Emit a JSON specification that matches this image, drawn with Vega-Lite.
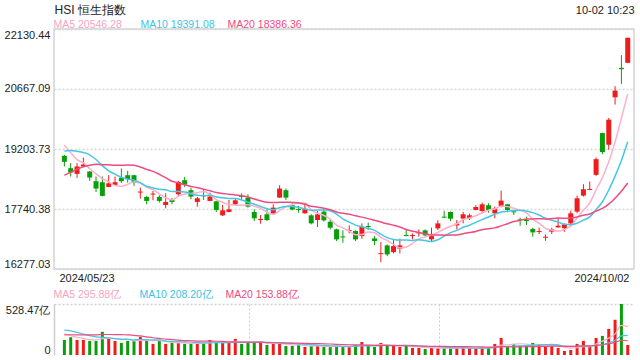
{
"$schema":"https://vega.github.io/schema/vega-lite/v6.json",
"padding":{"left":3,"top":2,"right":5,"bottom":5},
"bounds":"flush",
"spacing":35,
"datasets":{"k":[
{"i":0,"o":19038,"h":19060,"l":18777,"c":18891,"v":156,"ma5":19299.6,"ma10":19156.5,"ma20":18563.3,"vma5":219.0,"vma10":257.0,"vma20":208.0},
{"i":1,"o":18736,"h":18859,"l":18532,"c":18630,"v":184,"ma5":19114.9,"ma10":19165.7,"ma20":18634.8,"vma5":199.8,"vma10":249.4,"vma20":209.7},
{"i":2,"o":18597,"h":18859,"l":18500,"c":18777,"v":156,"ma5":18943.0,"ma10":19147.0,"ma20":18709.4,"vma5":183.0,"vma10":234.0,"vma20":209.5},
{"i":3,"o":18777,"h":18997,"l":18760,"c":18826,"v":156,"ma5":18863.9,"ma10":19118.1,"ma20":18768.1,"vma5":172.2,"vma10":216.6,"vma20":208.8},
{"i":4,"o":18655,"h":18665,"l":18426,"c":18508,"v":146,"ma5":18726.4,"ma10":19061.6,"ma20":18806.2,"vma5":159.6,"vma10":201.2,"vma20":209.1},
{"i":5,"o":18418,"h":18532,"l":18157,"c":18239,"v":146,"ma5":18596.0,"ma10":18947.8,"ma20":18830.0,"vma5":157.6,"vma10":188.3,"vma20":208.9},
{"i":6,"o":18394,"h":18532,"l":18050,"c":18059,"v":240,"ma5":18481.8,"ma10":18798.3,"ma20":18822.6,"vma5":168.8,"vma10":184.3,"vma20":212.7},
{"i":7,"o":18279,"h":18565,"l":18270,"c":18369,"v":167,"ma5":18400.2,"ma10":18671.6,"ma20":18817.2,"vma5":171.0,"vma10":177.0,"vma20":212.3},
{"i":8,"o":18328,"h":18532,"l":18320,"c":18394,"v":146,"ma5":18313.8,"ma10":18588.9,"ma20":18808.0,"vma5":169.0,"vma10":170.6,"vma20":211.6},
{"i":9,"o":18500,"h":18728,"l":18377,"c":18418,"v":125,"ma5":18295.8,"ma10":18511.1,"ma20":18804.9,"vma5":164.8,"vma10":162.2,"vma20":210.1},
{"i":10,"o":18565,"h":18671,"l":18385,"c":18467,"v":146,"ma5":18341.4,"ma10":18468.7,"ma20":18812.6,"vma5":164.8,"vma10":161.2,"vma20":209.1},
{"i":11,"o":18565,"h":18575,"l":18304,"c":18385,"v":146,"ma5":18406.6,"ma10":18444.2,"ma20":18805.0,"vma5":146.0,"vma10":157.4,"vma20":203.4},
{"i":12,"o":18141,"h":18263,"l":17994,"c":18165,"v":188,"ma5":18365.8,"ma10":18383.0,"ma20":18765.0,"vma5":150.2,"vma10":160.6,"vma20":197.3},
{"i":13,"o":18035,"h":18059,"l":17855,"c":17937,"v":146,"ma5":18274.4,"ma10":18294.1,"ma20":18706.1,"vma5":150.2,"vma10":159.6,"vma20":188.1},
{"i":14,"o":18092,"h":18181,"l":17953,"c":18116,"v":115,"ma5":18214.0,"ma10":18254.9,"ma20":18658.2,"vma5":148.2,"vma10":156.5,"vma20":178.9},
{"i":15,"o":18035,"h":18076,"l":17896,"c":17937,"v":146,"ma5":18108.0,"ma10":18224.7,"ma20":18586.3,"vma5":148.2,"vma10":156.5,"vma20":172.4},
{"i":16,"o":17839,"h":18124,"l":17757,"c":17912,"v":115,"ma5":18013.4,"ma10":18210.0,"ma20":18504.2,"vma5":142.0,"vma10":144.0,"vma20":164.2},
{"i":17,"o":17961,"h":18010,"l":17855,"c":17912,"v":125,"ma5":17962.8,"ma10":18164.3,"ma20":18418.0,"vma5":129.4,"vma10":139.8,"vma20":158.4},
{"i":18,"o":18100,"h":18426,"l":18043,"c":18402,"v":125,"ma5":18055.8,"ma10":18165.1,"ma20":18377.0,"vma5":125.2,"vma10":137.7,"vma20":154.2},
{"i":19,"o":18443,"h":18524,"l":18279,"c":18336,"v":115,"ma5":18099.8,"ma10":18156.9,"ma20":18334.0,"vma5":125.2,"vma10":136.7,"vma20":149.5},
{"i":20,"o":18198,"h":18255,"l":17978,"c":18043,"v":125,"ma5":18121.0,"ma10":18114.5,"ma20":18291.6,"vma5":121.0,"vma10":134.6,"vma20":147.9},
{"i":21,"o":17912,"h":18035,"l":17798,"c":18002,"v":115,"ma5":18139.0,"ma10":18076.2,"ma20":18260.2,"vma5":121.0,"vma10":131.5,"vma20":144.5},
{"i":22,"o":18075,"h":18222,"l":17961,"c":18051,"v":125,"ma5":18166.8,"ma10":18064.8,"ma20":18223.9,"vma5":121.0,"vma10":125.2,"vma20":142.9},
{"i":23,"o":17937,"h":18141,"l":17930,"c":18043,"v":156,"ma5":18095.0,"ma10":18075.4,"ma20":18184.8,"vma5":127.2,"vma10":126.2,"vma20":142.9},
{"i":24,"o":17929,"h":17940,"l":17668,"c":17717,"v":135,"ma5":17971.2,"ma10":18035.5,"ma20":18145.2,"vma5":131.2,"vma10":128.2,"vma20":142.4},
{"i":25,"o":17586,"h":17839,"l":17570,"c":17708,"v":125,"ma5":17904.2,"ma10":18012.6,"ma20":18118.7,"vma5":131.2,"vma10":126.1,"vma20":141.3},
{"i":26,"o":17668,"h":17961,"l":17660,"c":17733,"v":125,"ma5":17850.4,"ma10":17994.7,"ma20":18102.4,"vma5":133.2,"vma10":127.1,"vma20":135.6},
{"i":27,"o":17855,"h":17994,"l":17814,"c":17953,"v":167,"ma5":17830.8,"ma10":17998.8,"ma20":18081.6,"vma5":141.6,"vma10":131.3,"vma20":135.6},
{"i":28,"o":18059,"h":18124,"l":17961,"c":18035,"v":115,"ma5":17829.2,"ma10":17962.1,"ma20":18063.6,"vma5":133.4,"vma10":130.3,"vma20":134.0},
{"i":29,"o":18018,"h":18100,"l":17774,"c":17798,"v":125,"ma5":17845.4,"ma10":17908.3,"ma20":18032.6,"vma5":131.4,"vma10":131.3,"vma20":134.0},
{"i":30,"o":17668,"h":17733,"l":17447,"c":17513,"v":135,"ma5":17806.4,"ma10":17855.3,"ma20":17984.9,"vma5":133.4,"vma10":132.3,"vma20":133.5},
{"i":31,"o":17472,"h":17594,"l":17382,"c":17496,"v":135,"ma5":17759.0,"ma10":17804.7,"ma20":17940.5,"vma5":135.4,"vma10":134.3,"vma20":132.9},
{"i":32,"o":17611,"h":17733,"l":17447,"c":17472,"v":104,"ma5":17662.8,"ma10":17746.8,"ma20":17905.8,"vma5":122.8,"vma10":132.2,"vma20":128.7},
{"i":33,"o":17627,"h":17855,"l":17611,"c":17774,"v":115,"ma5":17610.6,"ma10":17719.9,"ma20":17897.7,"vma5":122.8,"vma10":128.1,"vma20":127.2},
{"i":34,"o":18018,"h":18320,"l":18010,"c":18239,"v":115,"ma5":17698.8,"ma10":17772.1,"ma20":17903.8,"vma5":120.8,"vma10":126.1,"vma20":127.2},
{"i":35,"o":18198,"h":18239,"l":17961,"c":18018,"v":94,"ma5":17799.8,"ma10":17803.1,"ma20":17907.9,"vma5":112.6,"vma10":123.0,"vma20":124.6},
{"i":36,"o":17831,"h":17880,"l":17710,"c":17725,"v":94,"ma5":17845.6,"ma10":17802.3,"ma20":17898.5,"vma5":104.4,"vma10":119.9,"vma20":123.5},
{"i":37,"o":17741,"h":17814,"l":17651,"c":17717,"v":104,"ma5":17894.6,"ma10":17778.7,"ma20":17888.8,"vma5":104.4,"vma10":113.6,"vma20":122.5},
{"i":38,"o":17635,"h":17880,"l":17627,"c":17733,"v":83,"ma5":17886.4,"ma10":17748.5,"ma20":17855.3,"vma5":98.0,"vma10":110.4,"vma20":120.4},
{"i":39,"o":17586,"h":17611,"l":17366,"c":17390,"v":94,"ma5":17716.6,"ma10":17707.7,"ma20":17808.0,"vma5":93.8,"vma10":107.3,"vma20":119.3},
{"i":40,"o":17472,"h":17692,"l":17301,"c":17611,"v":94,"ma5":17635.2,"ma10":17717.5,"ma20":17786.4,"vma5":93.8,"vma10":103.2,"vma20":117.8},
{"i":41,"o":17676,"h":17733,"l":17431,"c":17464,"v":83,"ma5":17583.0,"ma10":17714.3,"ma20":17759.5,"vma5":91.6,"vma10":98.0,"vma20":116.2},
{"i":42,"o":17431,"h":17488,"l":17244,"c":17284,"v":83,"ma5":17496.4,"ma10":17695.5,"ma20":17721.2,"vma5":87.4,"vma10":95.9,"vma20":114.1},
{"i":43,"o":17244,"h":17260,"l":16958,"c":16999,"v":94,"ma5":17349.6,"ma10":17618.0,"ma20":17669.0,"vma5":89.6,"vma10":93.8,"vma20":111.0},
{"i":44,"o":17072,"h":17219,"l":16917,"c":17048,"v":83,"ma5":17281.2,"ma10":17498.9,"ma20":17635.5,"vma5":87.4,"vma10":90.6,"vma20":108.4},
{"i":45,"o":17203,"h":17341,"l":17146,"c":17227,"v":83,"ma5":17204.4,"ma10":17419.8,"ma20":17611.5,"vma5":85.2,"vma10":89.5,"vma20":106.3},
{"i":46,"o":17203,"h":17219,"l":16958,"c":16999,"v":104,"ma5":17111.4,"ma10":17347.2,"ma20":17574.8,"vma5":89.4,"vma10":90.5,"vma20":105.2},
{"i":47,"o":17080,"h":17390,"l":17015,"c":17309,"v":135,"ma5":17116.4,"ma10":17306.4,"ma20":17542.6,"vma5":99.8,"vma10":93.6,"vma20":103.6},
{"i":48,"o":17325,"h":17407,"l":17227,"c":17301,"v":94,"ma5":17176.8,"ma10":17263.2,"ma20":17505.9,"vma5":99.8,"vma10":94.7,"vma20":102.6},
{"i":49,"o":17023,"h":17080,"l":16860,"c":16958,"v":83,"ma5":17158.8,"ma10":17220.0,"ma20":17463.9,"vma5":99.8,"vma10":93.6,"vma20":100.5},
{"i":50,"o":16640,"h":16934,"l":16444,"c":16664,"v":125,"ma5":17046.2,"ma10":17125.3,"ma20":17421.4,"vma5":108.2,"vma10":96.7,"vma20":100.0},
{"i":51,"o":16852,"h":16876,"l":16591,"c":16632,"v":104,"ma5":16972.8,"ma10":17042.1,"ma20":17378.2,"vma5":108.2,"vma10":98.8,"vma20":98.4},
{"i":52,"o":16689,"h":16982,"l":16656,"c":16836,"v":94,"ma5":16878.2,"ma10":16997.3,"ma20":17346.4,"vma5":100.0,"vma10":99.9,"vma20":97.9},
{"i":53,"o":16770,"h":17015,"l":16656,"c":16852,"v":83,"ma5":16788.4,"ma10":16982.6,"ma20":17300.3,"vma5":97.8,"vma10":98.8,"vma20":96.3},
{"i":54,"o":17105,"h":17227,"l":17075,"c":17080,"v":94,"ma5":16812.8,"ma10":16985.8,"ma20":17242.4,"vma5":100.0,"vma10":99.9,"vma20":95.3},
{"i":55,"o":17080,"h":17146,"l":16999,"c":17105,"v":73,"ma5":16901.0,"ma10":16973.6,"ma20":17196.7,"vma5":89.6,"vma10":98.9,"vma20":94.2},
{"i":56,"o":17146,"h":17244,"l":17064,"c":17170,"v":73,"ma5":17008.6,"ma10":16990.7,"ma20":17169.0,"vma5":83.4,"vma10":95.8,"vma20":93.2},
{"i":57,"o":17219,"h":17244,"l":17064,"c":17097,"v":62,"ma5":17060.8,"ma10":16969.5,"ma20":17138.0,"vma5":77.0,"vma10":88.5,"vma20":91.1},
{"i":58,"o":16999,"h":17284,"l":16934,"c":17080,"v":73,"ma5":17106.4,"ma10":16947.4,"ma20":17105.3,"vma5":75.0,"vma10":86.4,"vma20":90.6},
{"i":59,"o":17268,"h":17464,"l":17227,"c":17390,"v":73,"ma5":17168.4,"ma10":16990.6,"ma20":17105.3,"vma5":70.8,"vma10":85.4,"vma20":89.5},
{"i":60,"o":17553,"h":17692,"l":17525,"c":17529,"v":73,"ma5":17253.2,"ma10":17077.1,"ma20":17101.2,"vma5":70.8,"vma10":80.2,"vma20":88.5},
{"i":61,"o":17668,"h":17680,"l":17447,"c":17505,"v":68,"ma5":17320.2,"ma10":17164.4,"ma20":17103.3,"vma5":69.8,"vma10":76.6,"vma20":87.7},
{"i":62,"o":17341,"h":17472,"l":17244,"c":17382,"v":73,"ma5":17377.2,"ma10":17219.0,"ma20":17108.2,"vma5":72.0,"vma10":74.5,"vma20":87.2},
{"i":63,"o":17505,"h":17668,"l":17390,"c":17611,"v":78,"ma5":17483.4,"ma10":17294.9,"ma20":17138.8,"vma5":73.0,"vma10":74.0,"vma20":86.4},
{"i":64,"o":17513,"h":17627,"l":17472,"c":17586,"v":73,"ma5":17522.6,"ma10":17345.5,"ma20":17165.7,"vma5":73.0,"vma10":71.9,"vma20":85.9},
{"i":65,"o":17717,"h":17831,"l":17710,"c":17790,"v":70,"ma5":17574.8,"ma10":17414.0,"ma20":17193.8,"vma5":72.4,"vma10":71.6,"vma20":85.3},
{"i":66,"o":17692,"h":17896,"l":17635,"c":17855,"v":73,"ma5":17644.8,"ma10":17482.5,"ma20":17236.6,"vma5":73.4,"vma10":71.6,"vma20":83.7},
{"i":67,"o":17831,"h":17880,"l":17651,"c":17717,"v":73,"ma5":17711.8,"ma10":17544.5,"ma20":17257.0,"vma5":73.4,"vma10":72.7,"vma20":80.6},
{"i":68,"o":17635,"h":17798,"l":17513,"c":17757,"v":115,"ma5":17741.0,"ma10":17612.2,"ma20":17279.8,"vma5":80.8,"vma10":76.9,"vma20":81.7},
{"i":69,"o":17798,"h":18190,"l":17782,"c":17945,"v":177,"ma5":17812.8,"ma10":17667.7,"ma20":17329.2,"vma5":101.6,"vma10":87.3,"vma20":86.4},
{"i":70,"o":17855,"h":17865,"l":17659,"c":17717,"v":83,"ma5":17798.2,"ma10":17686.5,"ma20":17381.8,"vma5":104.2,"vma10":88.3,"vma20":84.3},
{"i":71,"o":17684,"h":17717,"l":17594,"c":17659,"v":115,"ma5":17759.0,"ma10":17701.9,"ma20":17433.2,"vma5":112.6,"vma10":93.0,"vma20":84.8},
{"i":72,"o":17488,"h":17529,"l":17333,"c":17464,"v":94,"ma5":17708.4,"ma10":17710.1,"ma20":17464.6,"vma5":116.8,"vma10":95.1,"vma20":84.8},
{"i":73,"o":17472,"h":17553,"l":17349,"c":17447,"v":94,"ma5":17646.4,"ma10":17693.7,"ma20":17494.3,"vma5":112.6,"vma10":96.7,"vma20":85.4},
{"i":74,"o":17252,"h":17284,"l":17064,"c":17170,"v":125,"ma5":17491.4,"ma10":17652.1,"ma20":17498.8,"vma5":102.2,"vma10":101.9,"vma20":86.9},
{"i":75,"o":17178,"h":17284,"l":17129,"c":17203,"v":104,"ma5":17388.6,"ma10":17593.4,"ma20":17503.7,"vma5":106.4,"vma10":105.3,"vma20":88.5},
{"i":76,"o":17039,"h":17121,"l":16966,"c":17064,"v":94,"ma5":17269.6,"ma10":17514.3,"ma20":17498.4,"vma5":102.2,"vma10":107.4,"vma20":89.5},
{"i":77,"o":17186,"h":17284,"l":17129,"c":17243,"v":94,"ma5":17225.4,"ma10":17466.9,"ma20":17505.7,"vma5":102.2,"vma10":109.5,"vma20":91.1},
{"i":78,"o":17292,"h":17513,"l":17285,"c":17333,"v":73,"ma5":17202.6,"ma10":17424.5,"ma20":17518.4,"vma5":98.0,"vma10":105.3,"vma20":91.1},
{"i":79,"o":17268,"h":17390,"l":17186,"c":17366,"v":42,"ma5":17241.8,"ma10":17366.6,"ma20":17517.2,"vma5":81.4,"vma10":91.8,"vma20":89.6},
{"i":80,"o":17390,"h":17700,"l":17366,"c":17635,"v":52,"ma5":17328.2,"ma10":17358.4,"ma20":17522.5,"vma5":71.0,"vma10":88.7,"vma20":88.5},
{"i":81,"o":17676,"h":18067,"l":17635,"c":18002,"v":115,"ma5":17515.8,"ma10":17392.7,"ma20":17547.3,"vma5":75.2,"vma10":88.7,"vma20":90.9},
{"i":82,"o":18067,"h":18345,"l":18043,"c":18222,"v":146,"ma5":17711.6,"ma10":17468.5,"ma20":17589.3,"vma5":85.6,"vma10":93.9,"vma20":94.5},
{"i":83,"o":18206,"h":18410,"l":18200,"c":18230,"v":83,"ma5":17891.0,"ma10":17546.8,"ma20":17620.3,"vma5":87.6,"vma10":92.8,"vma20":94.8},
{"i":84,"o":18573,"h":18997,"l":18548,"c":18956,"v":177,"ma5":18209.0,"ma10":17725.4,"ma20":17688.8,"vma5":114.6,"vma10":98.0,"vma20":100.0},
{"i":85,"o":19593,"h":19600,"l":19079,"c":19128,"v":198,"ma5":18507.6,"ma10":17917.9,"ma20":17755.7,"vma5":143.8,"vma10":107.4,"vma20":106.4},
{"i":86,"o":19307,"h":19960,"l":19185,"c":19919,"v":271,"ma5":18891.0,"ma10":18203.4,"ma20":17858.9,"vma5":175.0,"vma10":125.1,"vma20":116.3},
{"i":87,"o":20465,"h":20735,"l":20286,"c":20628,"v":365,"ma5":19372.2,"ma10":18541.9,"ma20":18004.4,"vma5":218.8,"vma10":152.2,"vma20":130.9},
{"i":88,"o":21183,"h":21493,"l":20792,"c":21151,"v":528.47,"ma5":19956.4,"ma10":18923.7,"ma20":18174.1,"vma5":307.9,"vma10":197.7,"vma20":151.5},
{"i":89,"o":21306,"h":21917,"l":21300,"c":21917,"v":104,"ma5":20548.6,"ma10":19378.8,"ma20":18372.7,"vma5":293.3,"vma10":203.9,"vma20":147.9}
]},
"vconcat":[
{
"width":580,"height":240,
"view":{"stroke":"#d3d3d3","strokeWidth":1.5},
"data":{"name":"k"},
"layer":[
{"mark":{"type":"rule","strokeWidth":1},
 "encoding":{
  "x":{"field":"i","type":"quantitative","scale":{"domain":[-0.85,89.2],"nice":false,"zero":false},
   "axis":{"values":[-0.85,89.2],"labelExpr":"datum.value < 40 ? '2024/05/23' : '2024/10/02'","labelAlign":{"condition":{"test":"datum.value < 40","value":"left"},"value":"right"},"ticks":false,"domain":false,"grid":false,"title":null,"labelPadding":3,"labelColor":"#222","labelFontSize":11}},
  "y":{"field":"l","type":"quantitative","scale":{"domain":[16277.03,22130.44],"nice":false,"zero":false},
   "axis":{"values":[16277.03,17740.38,19203.73,20667.09,22130.44],"format":".2f","labelFlush":true,"ticks":false,"domain":false,"grid":true,"gridDash":[2,2],"gridColor":"#d8d8d8","gridWidth":1.5,"title":null,"labelPadding":4,"labelColor":"#222","labelFontSize":11}},
  "y2":{"field":"h"},
  "color":{"condition":{"test":"datum.c >= datum.o","value":"#f01c1c"},"value":"#0a9e0a"}}},
{"mark":{"type":"bar","width":5},
 "encoding":{
  "x":{"field":"i","type":"quantitative","scale":{"domain":[-0.85,89.2],"nice":false,"zero":false},
   "axis":{"orient":"top","labels":false,"ticks":false,"domain":false,"grid":false,"title":"HSI 恒生指数","titleX":0,"titleAlign":"left","titleY":-15.5,"titleBaseline":"alphabetic","titleFontSize":12,"titleFontWeight":"normal","titleColor":"#222"}},
  "y":{"field":"o","type":"quantitative","scale":{"domain":[16277.03,22130.44],"nice":false,"zero":false},
   "axis":{"values":[16277.03,17740.38,19203.73,20667.09,22130.44],"format":".2f","labelFlush":true,"ticks":false,"domain":false,"grid":true,"gridDash":[2,2],"gridColor":"#d8d8d8","gridWidth":1.5,"title":null,"labelPadding":4,"labelColor":"#222","labelFontSize":11}},
  "y2":{"field":"c"},
  "color":{"condition":{"test":"datum.c >= datum.o","value":"#f01c1c"},"value":"#0a9e0a"}}},
{"transform":[{"fold":["ma5","ma10","ma20"],"as":["ma","val"]}],
 "mark":{"type":"line","strokeWidth":1.5,"interpolate":"monotone"},
 "encoding":{
  "x":{"field":"i","type":"quantitative","scale":{"domain":[-0.85,89.2],"nice":false,"zero":false},
   "axis":{"orient":"top","labels":false,"ticks":false,"domain":false,"grid":false,"title":"10-02 10:23","titleX":580,"titleAlign":"right","titleY":-15.5,"titleBaseline":"alphabetic","titleFontSize":11,"titleFontWeight":"normal","titleColor":"#222"}},
  "y":{"field":"val","type":"quantitative","scale":{"domain":[16277.03,22130.44],"nice":false,"zero":false},
   "axis":{"values":[16277.03,17740.38,19203.73,20667.09,22130.44],"format":".2f","labelFlush":true,"ticks":false,"domain":false,"grid":true,"gridDash":[2,2],"gridColor":"#d8d8d8","gridWidth":1.5,"title":null,"labelPadding":4,"labelColor":"#222","labelFontSize":11}},
  "color":{"field":"ma","type":"nominal","scale":{"domain":["ma5","ma10","ma20"],"range":["#fbb0cc","#45c6e4","#ee4b80"]},
   "legend":{"orient":"none","legendX":-11,"legendY":-9.5,"direction":"horizontal","columns":3,"title":null,"symbolSize":0.01,"symbolOpacity":0,"symbolStrokeWidth":0,"labelOffset":0,"labelFontSize":10.5,"columnPadding":2,"gridAlign":"all","padding":0,"labelLimit":200,
    "labelExpr":"datum.label == 'ma5' ? 'MA5 20546.28' : datum.label == 'ma10' ? 'MA10 19391.08' : 'MA20 18386.36'",
    "encode":{"labels":{"update":{"fill":{"signal":"datum.value == 'ma5' ? '#f7a3c1' : datum.value == 'ma10' ? '#3cc3e2' : '#ee4b80'"}}}}}}}}
],
"resolve":{"axis":{"x":"independent"}}
},
{
"width":580,"height":51,
"data":{"name":"k"},
"layer":[
{"mark":{"type":"bar","width":3},
 "encoding":{
  "x":{"field":"i","type":"quantitative","scale":{"domain":[-0.85,89.2],"nice":false,"zero":false},
   "axis":{"values":[29.17,59.2],"grid":true,"gridDash":[2,2],"gridColor":"#cfcfcf","gridWidth":1,"labels":false,"ticks":false,"domain":false,"title":null}},
  "y":{"field":"v","type":"quantitative","scale":{"domain":[0,528.47],"nice":false,"zero":true},
   "axis":{"values":[0,528.47],"labelExpr":"datum.value > 0 ? '528.47亿' : '0'","labelFlush":true,"ticks":false,"domain":true,"domainColor":"#cfcfcf","domainWidth":1.5,"grid":true,"gridDash":[2,2],"gridColor":"#d0d0d0","gridWidth":1.5,"gridOpacity":{"condition":{"test":"datum.value > 0","value":1},"value":0},"title":null,"labelPadding":4,"labelColor":"#222","labelFontSize":11}},
  "color":{"condition":{"test":"datum.c >= datum.o","value":"#f01c1c"},"value":"#0a9e0a"}}},
{"transform":[{"fold":["vma5","vma10","vma20"],"as":["vma","vval"]}],
 "mark":{"type":"line","strokeWidth":1.2,"interpolate":"monotone"},
 "encoding":{
  "x":{"field":"i","type":"quantitative","scale":{"domain":[-0.85,89.2],"nice":false,"zero":false}},
  "y":{"field":"vval","type":"quantitative","scale":{"domain":[0,528.47],"nice":false,"zero":true}},
  "color":{"field":"vma","type":"nominal","scale":{"domain":["vma5","vma10","vma20"],"range":["#fbb0cc","#45c6e4","#ee4b80"]},
   "legend":{"orient":"none","legendX":-11,"legendY":-14,"direction":"horizontal","columns":3,"title":null,"symbolSize":0.01,"symbolOpacity":0,"symbolStrokeWidth":0,"labelOffset":0,"labelFontSize":10.5,"columnPadding":2,"gridAlign":"all","padding":0,"labelLimit":200,
    "labelExpr":"datum.label == 'vma5' ? 'MA5 295.88亿' : datum.label == 'vma10' ? 'MA10 208.20亿' : 'MA20 153.88亿'",
    "encode":{"labels":{"update":{"fill":{"signal":"datum.value == 'vma5' ? '#f7a3c1' : datum.value == 'vma10' ? '#3cc3e2' : '#ee4b80'"}}}}}}}}
]
}
],
"resolve":{"scale":{"color":"independent"},"legend":{"color":"independent"}},
"config":{"view":{"stroke":null},"font":"Liberation Sans","axis":{"labelFont":"Liberation Sans","titleFont":"Liberation Sans"},"legend":{"labelFont":"Liberation Sans"}}
}
